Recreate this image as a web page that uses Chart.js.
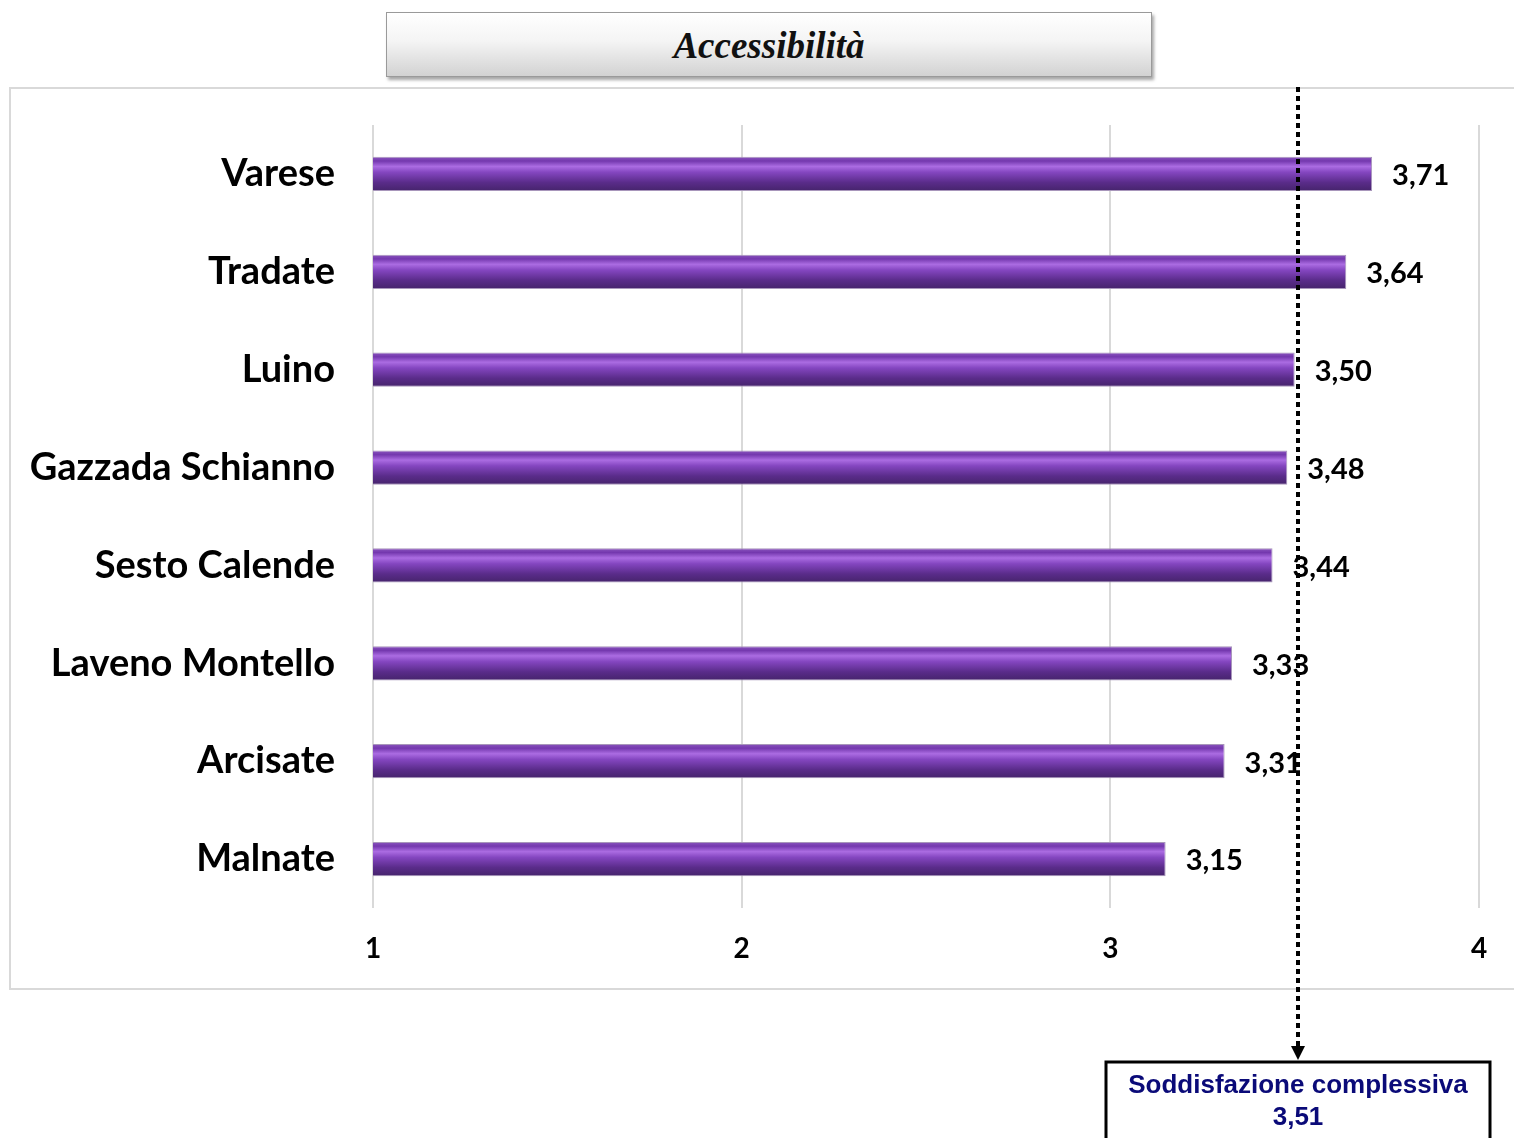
<!DOCTYPE html>
<html>
<head>
<meta charset="utf-8">
<script src="https://cdn.jsdelivr.net/npm/chart.js"></script>
<style>
  body { margin: 0; background: #fff; }
  #wrap { position: relative; width: 1514px; height: 1138px; overflow: hidden; }
  #frame { position: absolute; left: 9px; top: 87px; width: 1520px; height: 903px; border: 2px solid #d9d9d9; box-sizing: border-box; }
  #titolo {
    position: absolute; left: 386px; top: 12px; width: 766px; height: 65px; box-sizing: border-box;
    border: 1px solid #9a9a9a;
    background: linear-gradient(to bottom, #ffffff 0%, #f4f4f4 45%, #d2d2d2 100%);
    box-shadow: 2px 3px 3px rgba(0,0,0,0.35);
    font-family: "Liberation Serif", serif; font-style: italic; font-weight: bold; font-size: 37px;
    text-align: center; line-height: 65px; color: #111;
  }
  canvas { position: absolute; left: 0; top: 0; }
</style>
</head>
<body>
<div id="wrap">
  <div id="frame"></div>
  <div id="titolo">Accessibilità</div>
  <canvas id="grafico" width="1514" height="1138"></canvas>
</div>
<script>
// dati
const comuni = ['Varese', 'Tradate', 'Luino', 'Gazzada Schianno', 'Sesto Calende', 'Laveno Montello', 'Arcisate', 'Malnate'];
const punteggi = [3.71, 3.64, 3.50, 3.48, 3.44, 3.33, 3.31, 3.15];
const tickValori = [1, 2, 3, 4];
const soddisfazioneComplessiva = 3.51;
const etichettaBox = 'Soddisfazione complessiva';

const virgola = v => v.toFixed(2).replace('.', ',');

// gradiente viola per ogni barra (effetto "tubo")
function coloreBarra(c) {
  const chart = c.chart;
  const ys = chart.scales.y;
  if (!ys || c.dataIndex === undefined || !chart.chartArea) return '#7a3db0';
  const yc = ys.getPixelForValue(c.dataIndex);
  if (!isFinite(yc)) return '#7a3db0';
  const h = 17;
  const g = chart.ctx.createLinearGradient(0, yc - h, 0, yc + h);
  g.addColorStop(0, '#8a55bd');
  g.addColorStop(0.12, '#7438ae');
  g.addColorStop(0.28, '#ab6ce2');
  g.addColorStop(0.45, '#8446c0');
  g.addColorStop(0.75, '#5a2c8a');
  g.addColorStop(1, '#46246c');
  return g;
}

const etichetteValori = {
  id: 'etichetteValori',
  afterDatasetsDraw(chart) {
    const ctx = chart.ctx;
    const meta = chart.getDatasetMeta(0);
    ctx.save();
    ctx.font = 'bold 29px Lato';
    ctx.fillStyle = '#000';
    ctx.textBaseline = 'middle';
    meta.data.forEach((bar, i) => {
      ctx.fillText(virgola(punteggi[i]), bar.x + 20, bar.y + 2);
    });
    ctx.restore();
  }
};

const lineaMedia = {
  id: 'lineaMedia',
  afterDraw(chart) {
    const ctx = chart.ctx;
    const x = Math.round(chart.scales.x.getPixelForValue(soddisfazioneComplessiva));
    ctx.save();
    ctx.strokeStyle = '#000';
    ctx.lineWidth = 4;
    ctx.setLineDash([5, 4]);
    ctx.beginPath();
    ctx.moveTo(x, 87);
    ctx.lineTo(x, 1046);
    ctx.stroke();
    ctx.setLineDash([]);
    // freccia
    ctx.fillStyle = '#000';
    ctx.beginPath();
    ctx.moveTo(x - 7, 1046);
    ctx.lineTo(x + 7, 1046);
    ctx.lineTo(x, 1060);
    ctx.closePath();
    ctx.fill();
    // riquadro
    const w = 384, top = 1062;
    ctx.fillStyle = '#fff';
    ctx.fillRect(x - w / 2, top, w, 90);
    ctx.lineWidth = 3;
    ctx.strokeStyle = '#000';
    ctx.strokeRect(x - w / 2, top, w, 90);
    ctx.fillStyle = '#0a0a78';
    ctx.font = 'bold 26px "Liberation Sans"';
    ctx.textAlign = 'center';
    ctx.textBaseline = 'middle';
    ctx.fillText(etichettaBox, x, top + 24);
    ctx.fillText(virgola(soddisfazioneComplessiva), x, top + 56);
    ctx.restore();
  }
};

new Chart(document.getElementById('grafico'), {
  type: 'bar',
  data: {
    labels: comuni,
    datasets: [{
      data: punteggi,
      backgroundColor: coloreBarra,
      borderColor: '#a896bb',
      borderWidth: 1,
      categoryPercentage: 1,
      barPercentage: 0.35
    }]
  },
  options: {
    indexAxis: 'y',
    responsive: false,
    animation: false,
    layout: { padding: { top: 125, right: 35, bottom: 160, left: 0 } },
    plugins: { legend: { display: false }, tooltip: { enabled: false } },
    scales: {
      x: {
        min: 1,
        max: 4,
        afterBuildTicks: s => { s.ticks = tickValori.map(v => ({ value: v })); },
        grid: { color: '#d9d9d9', lineWidth: 2, drawTicks: false },
        border: { display: false },
        ticks: { color: '#000', font: { family: 'Lato', weight: 'bold', size: 28 }, padding: 24 },
        afterFit: s => { s.height = 70; }
      },
      y: {
        grid: { display: false },
        border: { display: false },
        ticks: { color: '#000', font: { family: 'Lato', weight: 'bold', size: 38 }, padding: 30 },
        afterFit: s => { s.width = 373; }
      }
    }
  },
  plugins: [etichetteValori, lineaMedia]
});
</script>
</body>
</html>
